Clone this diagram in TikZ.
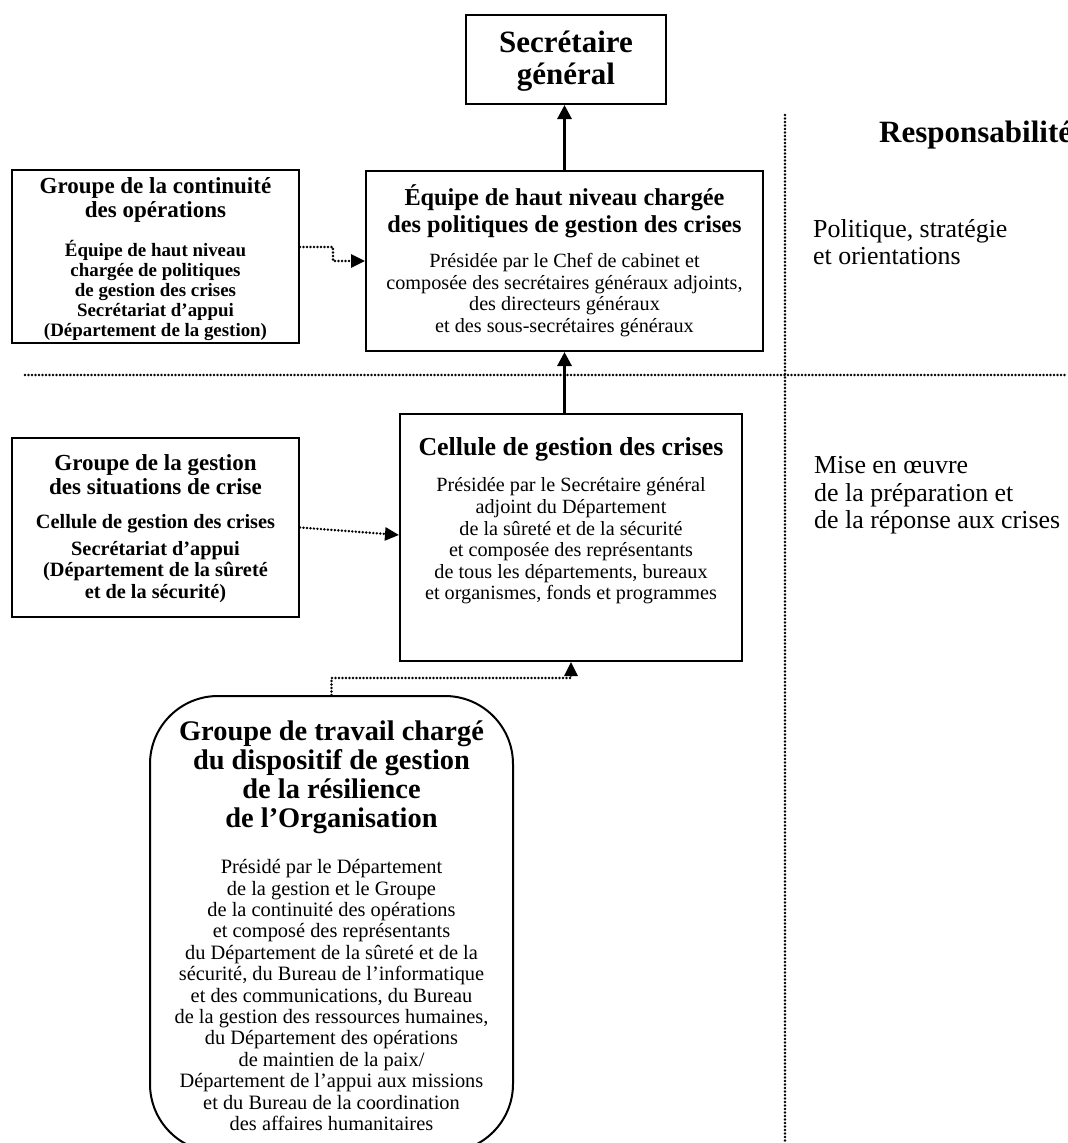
\documentclass[tikz,border=0pt]{standalone}
\usepackage{fontspec}
\setmainfont{Liberation Serif}
\usetikzlibrary{arrows.meta}
\tikzset{
  box/.style={draw, line width=2pt, inner sep=0pt},
  txt/.style={align=center, inner sep=0pt},
  solidarrow/.style={line width=3pt, -{Triangle[length=14pt,width=14pt]}},
  dotarrow/.style={line width=2.7pt, dash pattern=on 0pt off 3.5pt, line cap=round, -{Triangle[length=14pt,width=13pt]}},
  sepline/.style={line width=2.7pt, dash pattern=on 0pt off 3.5pt, line cap=round},
}
\begin{document}
\begin{tikzpicture}[x=1pt,y=-1pt]
\useasboundingbox (0,0) rectangle (1068,1143);
\clip (0,0) rectangle (1068,1143);

% separators
\coordinate (hs1) at (25,375);
\coordinate (hs2) at (1068,375);
\coordinate (vs1) at (785,115);
\coordinate (vs2) at (785,1143);
\draw[sepline] (hs1) -- (hs2);
\draw[sepline] (vs1) -- (vs2);

% Secretaire general
\node[box, minimum width=200pt, minimum height=89pt] (sg) at (566,59.5) {};
\node[txt, font=\fontsize{31}{32}\selectfont\bfseries] (sgT) at (566,61) {Secrétaire\\général};

% High-level team
\node[box, minimum width=397pt, minimum height=180pt] (hl) at (564.5,261) {};
\node[txt, font=\fontsize{24.3}{27}\selectfont\bfseries] (hlT) at (564.5,211) {Équipe de haut niveau chargée\\des politiques de gestion des crises};
\node[txt, font=\fontsize{20.2}{21.6}\selectfont] (hlB) at (564.5,295) {Présidée par le Chef de cabinet et\\composée des secrétaires généraux adjoints,\\des directeurs généraux\\et des sous-secrétaires généraux};

% Continuity group
\node[box, minimum width=287pt, minimum height=173pt] (cont) at (155.5,256.5) {};
\node[txt, font=\fontsize{23}{24}\selectfont\bfseries] (contT) at (155.5,199.5) {Groupe de la continuité\\des opérations};
\node[txt, font=\fontsize{18.9}{19.8}\selectfont\bfseries] (contB) at (155.5,290.5) {Équipe de haut niveau\\chargée de politiques\\de gestion des crises\\Secrétariat d’appui\\(Département de la gestion)};

% Crisis situations group
\node[box, minimum width=287pt, minimum height=179pt] (sit) at (155.5,527.5) {};
\node[txt, font=\fontsize{23}{24}\selectfont\bfseries] (sitT) at (155.5,475) {Groupe de la gestion\\des situations de crise};
\node[txt, font=\fontsize{20.3}{21.5}\selectfont\bfseries] (sitA) at (155.5,524) {Cellule de gestion des crises};
\node[txt, font=\fontsize{20.3}{21.5}\selectfont\bfseries] (sitB) at (155.5,572) {Secrétariat d’appui\\(Département de la sûreté\\et de la sécurité)};

% Crisis cell
\node[box, minimum width=342pt, minimum height=247pt] (cel) at (571,537.5) {};
\node[txt, font=\fontsize{25.9}{27}\selectfont\bfseries] (celT) at (571,449) {Cellule de gestion des crises};
\node[txt, font=\fontsize{20.2}{21.6}\selectfont] (celB) at (571,541) {Présidée par le Secrétaire général\\adjoint du Département\\de la sûreté et de la sécurité\\et composée des représentants\\de tous les départements, bureaux\\et organismes, fonds et programmes};

% Working group
\node[draw, line width=2pt, rounded corners=68pt, inner sep=0pt, minimum width=363pt, minimum height=456pt] (wg) at (331.5,924) {};
\node[txt, font=\fontsize{28.4}{29}\selectfont\bfseries] (wgT) at (331.5,777) {Groupe de travail chargé\\du dispositif de gestion\\de la résilience\\de l’Organisation};
\node[txt, font=\fontsize{20.4}{21.4}\selectfont] (wgB) at (331.5,995) {Présidé par le Département\\de la gestion et le Groupe\\de la continuité des opérations\\et composé des représentants\\du Département de la sûreté et de la\\sécurité, du Bureau de l’informatique\\et des communications, du Bureau\\de la gestion des ressources humaines,\\du Département des opérations\\de maintien de la paix/\\Département de l’appui aux missions\\et du Bureau de la coordination\\des affaires humanitaires};

% Right column
\node[anchor=west, inner sep=0pt, font=\fontsize{31}{32}\selectfont\bfseries] (resp) at (879,135) {Responsabilités};
\node[anchor=west, inner sep=0pt, align=left, font=\fontsize{25.9}{27}\selectfont] (pol) at (813,242) {Politique, stratégie\\et orientations};
\node[anchor=west, inner sep=0pt, align=left, font=\fontsize{25.9}{27.5}\selectfont] (mise) at (814,495.5) {Mise en œuvre\\de la préparation et\\de la réponse aux crises};

% Connectors
\draw[solidarrow] (hl.north) -- (hl.north |- sg.south);
\draw[solidarrow] (hl.south |- cel.north) -- (hl.south);
\draw[dotarrow] ([yshift=9.5pt]cont.east) -- ++(33,0) |- (hl.west);
\draw[dotarrow] (sit.east) -- ([yshift=2.5pt]cel.west);
\draw[dotarrow] (wg.north) -- ++(0,-17) -| (cel.south);
\end{tikzpicture}
\end{document}
